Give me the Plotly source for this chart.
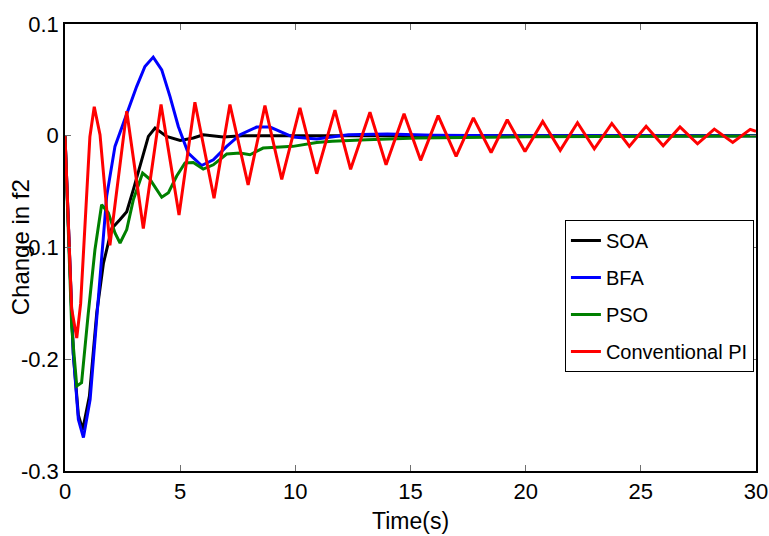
import plotly.graph_objects as go

# ---- data ----
soa_t = [0, 0.36, 0.58, 0.77, 1.06, 1.38, 1.67, 2.03, 2.39, 2.68, 2.97, 3.33, 3.62, 3.91,
         4.41, 5.0, 5.57, 6.0, 6.87, 7.7, 30]
soa_y = [0, -0.195, -0.25, -0.263, -0.233, -0.158, -0.114, -0.083, -0.075, -0.068, -0.048,
         -0.0215, -0.0006, 0.0069, -0.0006, -0.0042, -0.002, 0.0009, -0.0012, 0, 0]

bfa_t = [0, 0.36, 0.58, 0.80, 1.09, 1.38, 1.59, 1.81, 2.17, 2.68, 3.11, 3.47, 3.83, 4.2,
         4.56, 4.92, 5.35, 5.93, 6.44, 7.02, 7.6, 8.32, 8.9, 9.33, 9.9, 10.93, 12.3, 14,
         16, 20, 30]
bfa_y = [0, -0.195, -0.254, -0.270, -0.236, -0.165, -0.111, -0.054, -0.0095, 0.019, 0.044,
         0.062, 0.0704, 0.059, 0.035, 0.0083, -0.0155, -0.0266, -0.0215, -0.0095, 0.0009,
         0.0078, 0.0078, 0.004, -0.0012, -0.003, 0.0009, 0.0015, 0.0005, 0, 0]

pso_t = [0, 0.29, 0.51, 0.72, 1.01, 1.30, 1.59, 1.88, 2.17, 2.39, 2.68, 2.97, 3.37, 3.69,
         4.2, 4.49, 4.85, 5.21, 5.57, 6.0, 6.44, 7.02, 7.6, 8.03, 8.6, 9.33, 9.9, 10.93,
         11.6, 13.1, 15.3, 20, 25, 30]
pso_y = [0, -0.171, -0.224, -0.221, -0.159, -0.102, -0.0617, -0.069, -0.087, -0.096,
         -0.084, -0.057, -0.0334, -0.039, -0.055, -0.051, -0.036, -0.0244, -0.024, -0.0298,
         -0.026, -0.0164, -0.0155, -0.017, -0.011, -0.010, -0.0095, -0.006, -0.005, -0.0036,
         -0.002, -0.001, -0.0006, -0.0003]

pi_t = [0, 0.29, 0.51, 0.68, 1.08, 1.27, 1.52, 1.95, 2.68, 3.40, 4.17, 4.95, 5.64, 6.47,
        7.16, 7.95, 8.68, 9.41, 10.2, 10.93, 11.72, 12.4, 13.24, 13.94, 14.72, 15.44, 16.2,
        16.98, 17.73, 18.5, 19.2, 19.97, 20.74, 21.5, 22.25, 22.98, 23.74, 24.5, 25.23,
        25.97, 26.7, 27.46, 28.19, 28.99, 29.75, 30]
pi_y = [0, -0.155, -0.181, -0.15, -0.001, 0.026, 0.001, -0.098, 0.022, -0.083, 0.028,
        -0.071, 0.030, -0.056, 0.028, -0.044, 0.027, -0.039, 0.025, -0.034, 0.023, -0.030,
        0.021, -0.026, 0.0197, -0.022, 0.018, -0.0185, 0.016, -0.015, 0.0143, -0.014,
        0.0128, -0.013, 0.0117, -0.0117, 0.011, -0.0095, 0.0085, -0.009, 0.0078, -0.0072,
        0.006, -0.006, 0.0057, 0.004]

x_ticks = [0, 5, 10, 15, 20, 25, 30]
y_ticks = [-0.3, -0.2, -0.1, 0, 0.1]
y_tick_text = ["-0.3", "-0.2", "-0.1", "0", "0.1"]

series = [
    ("SOA", soa_t, soa_y, "#000000"),
    ("BFA", bfa_t, bfa_y, "#0000FF"),
    ("PSO", pso_t, pso_y, "#008000"),
    ("Conventional PI", pi_t, pi_y, "#FF0000"),
]

FONT = "Liberation Sans, Arial, sans-serif"

fig = go.Figure()
for i, (name, t, y, c) in enumerate(series):
    fig.add_trace(go.Scatter(x=t, y=y, mode="lines", name=name, legendgroup=f"g{i}",
                             line=dict(color=c, width=3)))

axis_common = dict(showline=True, linecolor="black", linewidth=1.5, mirror="ticks",
                   ticks="inside", ticklen=6, tickcolor="#707070", tickwidth=1,
                   showgrid=False, zeroline=False, ticklabeloverflow="allow",
                   automargin=False,
                   tickfont=dict(family=FONT, size=22, color="black"))

fig.update_xaxes(range=[0, 30], tickvals=x_ticks, **axis_common)
fig.update_yaxes(range=[-0.3, 0.1], tickvals=y_ticks, ticktext=y_tick_text, **axis_common)

fig.update_layout(
    width=769, height=536,
    margin=dict(l=65, r=13, t=24, b=65, autoexpand=False),
    plot_bgcolor="white", paper_bgcolor="white",
    showlegend=True,
    legend=dict(x=0.997, xanchor="right", y=0.5615, yanchor="top",
                bgcolor="white", bordercolor="black", borderwidth=1,
                font=dict(family=FONT, size=20, color="black"),
                itemwidth=30, tracegroupgap=8),
    annotations=[
        dict(text="Time(s)", xref="paper", yref="paper", x=0.5, y=-0.112,
             xanchor="center", yanchor="middle", showarrow=False,
             font=dict(family=FONT, size=23, color="black")),
        dict(text="Change in f2", xref="paper", yref="paper", x=-0.064, y=0.5,
             xanchor="center", yanchor="middle", textangle=-90, showarrow=False,
             font=dict(family=FONT, size=24, color="black")),
    ],
)

fig.write_html("out.html")
